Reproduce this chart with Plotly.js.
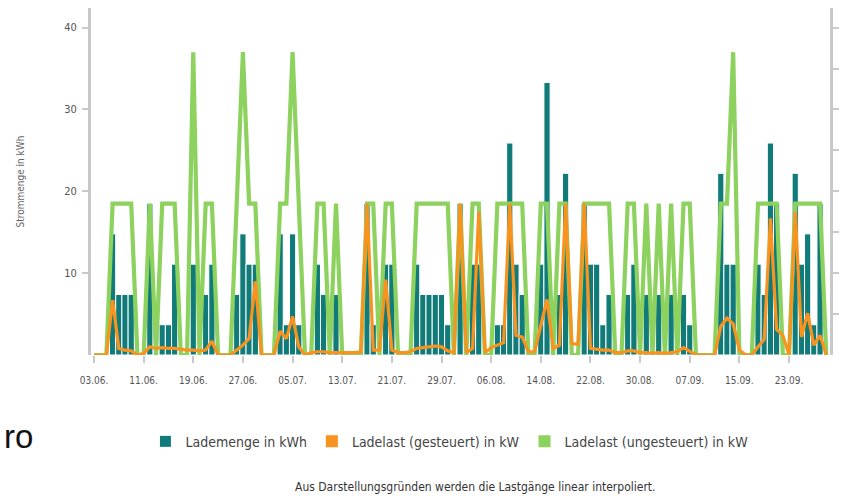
<!DOCTYPE html>
<html>
<head>
<meta charset="utf-8">
<script src="https://cdn.plot.ly/plotly-3.0.1.min.js"></script>
<style>
html,body{margin:0;padding:0;background:#ffffff;}
#chart{width:841px;height:496px;}
</style>
</head>
<body>
<div id="chart"></div>
<script>
// ---- data ----
const startDate = '2023-06-03';

// Lademenge in kWh (daily bars, 03.06. - 29.09.)
const ladeMenge = [
  0, 0, 0, 14.8, 7.4, 7.4, 7.4, 0, 0, 18.5,
  0, 3.7, 3.7, 11.1, 0, 0, 11.1, 0, 7.4, 11.1,
  0, 0, 0, 7.4, 14.8, 11.1, 11.1, 0, 0, 0,
  14.8, 3.7, 14.8, 3.7, 0, 0, 11.1, 7.4, 0, 7.4,
  0, 0, 0, 0, 18.5, 3.7, 0, 11.1, 11.1, 0,
  0, 0, 11.1, 7.4, 7.4, 7.4, 7.4, 3.7, 0, 18.5,
  0, 11.1, 11.1, 0, 0, 3.7, 3.7, 25.9, 11.1, 7.4,
  0, 0, 11.1, 33.3, 0, 7.4, 22.2, 0, 0, 18.5,
  11.1, 11.1, 3.7, 7.4, 0, 0, 7.4, 11.1, 0, 7.4,
  0, 7.4, 0, 7.4, 0, 7.4, 3.7, 0, 0, 0,
  0, 22.2, 11.1, 11.1, 0, 0, 0, 11.1, 7.4, 25.9,
  18.5, 0, 0, 22.2, 11.1, 14.8, 3.7, 18.5, 0
];

// Ladelast (gesteuert) in kW
const ladelastGesteuert = [
  0, 0, 0, 6.7, 0.8, 0.6, 0.5, 0, 0.2, 1.0,
  0.8, 0.9, 0.8, 0.8, 0.7, 0.6, 0.6, 0.5, 0.6, 1.7,
  0, 0, 0, 0.6, 1.2, 2.0, 9.0, 0, 0, 0,
  2.9, 2.0, 4.7, 1.0, 0, 0.3, 0.4, 0.4, 0.3, 0.3,
  0.3, 0.3, 0.3, 0.4, 18.5, 0.6, 0.6, 9.2, 0.6, 0.3,
  0.3, 0.4, 0.8, 0.9, 1.0, 1.1, 1.0, 0.5, 0.3, 18.5,
  0.3, 0.8, 17.5, 0.3, 0.9, 1.2, 1.5, 18.5, 2.4, 2.2,
  0.4, 0.4, 3.5, 6.8, 0.8, 1.2, 18.5, 1.4, 1.3, 18.5,
  0.8, 0.7, 0.6, 0.6, 0.3, 0.3, 0.5, 0.5, 0.3, 0.3,
  0.2, 0.3, 0.2, 0.3, 0.4, 0.9, 0.5, 0, 0, 0,
  0, 3.5, 4.5, 3.8, 0.6, 0, 0, 1.0, 1.9, 16.7,
  3.1, 2.4, 0, 17.5, 2.2, 5.1, 1.2, 2.4, 0
];

// Ladelast (ungesteuert) in kW
const ladelastUngesteuert = [
  0, 0, 0, 18.5, 18.5, 18.5, 18.5, 0, 0, 18.5,
  0, 18.5, 18.5, 18.5, 0, 0, 37, 0, 18.5, 18.5,
  0, 0, 0, 18.5, 37, 18.5, 18.5, 0, 0, 0,
  18.5, 18.5, 37, 18.5, 0, 0, 18.5, 18.5, 0, 18.5,
  0, 0, 0, 0, 18.5, 18.5, 0, 18.5, 18.5, 0,
  0, 0, 18.5, 18.5, 18.5, 18.5, 18.5, 18.5, 0, 18.5,
  0, 18.5, 18.5, 0, 0, 18.5, 18.5, 18.5, 18.5, 18.5,
  0, 0, 18.5, 18.5, 0, 18.5, 18.5, 0, 0, 18.5,
  18.5, 18.5, 18.5, 18.5, 0, 0, 18.5, 18.5, 0, 18.5,
  0, 18.5, 0, 18.5, 0, 18.5, 18.5, 0, 0, 0,
  0, 18.5, 18.5, 37, 0, 0, 0, 18.5, 18.5, 18.5,
  18.5, 0, 0, 18.5, 18.5, 18.5, 18.5, 18.5, 0
];

const tickDates = ['2023-06-03','2023-06-11','2023-06-19','2023-06-27','2023-07-05',
  '2023-07-13','2023-07-21','2023-07-29','2023-08-06','2023-08-14','2023-08-22',
  '2023-08-30','2023-09-07','2023-09-15','2023-09-23'];
const tickLabels = ['03.06.','11.06.','19.06.','27.06.','05.07.','13.07.','21.07.',
  '29.07.','06.08.','14.08.','22.08.','30.08.','07.09.','15.09.','23.09.'];

const yTicksLeft = [10, 20, 30, 40];
const yTicksRight = [5, 10, 15, 20, 25, 30, 35, 40];

const seriesNames = ['Lademenge in kWh', 'Ladelast (gesteuert) in kW', 'Ladelast (ungesteuert) in kW'];
const colors = ['#107b79', '#f7931e', '#8dd15e'];

// ---- build ----
function addDays(s, n) {
  const d = new Date(s + 'T00:00:00Z');
  d.setUTCDate(d.getUTCDate() + n);
  return d.toISOString().slice(0, 10);
}
const dates = ladeMenge.map((_, i) => addDays(startDate, i));

const FONT = '"Liberation Sans Narrow", "DejaVu Sans Condensed", "Roboto Condensed", Roboto, sans-serif';
const gray = '#c9c9c9';

const traces = [
  {
    type: 'bar', x: dates, y: ladeMenge, name: seriesNames[0],
    marker: {color: colors[0], line: {color: '#ffffff', width: 1}},
    showlegend: true, hoverinfo: 'skip', yaxis: 'y'
  },
  // legend squares for the two load curves
  {
    type: 'bar', x: [null], y: [null], name: seriesNames[1],
    marker: {color: colors[1]}, showlegend: true, hoverinfo: 'skip', yaxis: 'y'
  },
  {
    type: 'bar', x: [null], y: [null], name: seriesNames[2],
    marker: {color: colors[2]}, showlegend: true, hoverinfo: 'skip', yaxis: 'y'
  },
  {
    type: 'scatter', mode: 'lines', x: dates, y: ladelastUngesteuert, name: seriesNames[2],
    line: {color: colors[2], width: 4.2, shape: 'linear'},
    showlegend: false, hoverinfo: 'skip', yaxis: 'y2'
  },
  {
    type: 'scatter', mode: 'lines', x: dates, y: ladelastGesteuert, name: seriesNames[1],
    line: {color: colors[1], width: 3.2, shape: 'linear'},
    showlegend: false, hoverinfo: 'skip', yaxis: 'y2'
  }
];

const yRange = [0, 42.4];

const layout = {
  width: 841, height: 496,
  margin: {l: 91, r: 11, t: 8, b: 141, pad: 0},
  paper_bgcolor: '#ffffff', plot_bgcolor: '#ffffff',
  font: {family: FONT, color: '#555555'},
  bargap: 0,
  showlegend: true,
  xaxis: {
    type: 'date',
    range: ['2023-06-02 12:29', '2023-09-29 14:24'],
    tickmode: 'array', tickvals: tickDates, ticktext: tickLabels,
    ticks: 'outside', ticklen: 7, tickwidth: 2, tickcolor: gray,
    ticklabelstandoff: 9,
    showgrid: false, zeroline: false, showline: false,
    tickfont: {family: FONT, size: 10, color: '#555555'},
    fixedrange: true
  },
  yaxis: {
    range: yRange,
    tickmode: 'array', tickvals: yTicksLeft,
    ticks: 'outside', ticklen: 6, tickwidth: 2, tickcolor: gray,
    ticklabelstandoff: 3,
    showline: true, linecolor: gray, linewidth: 3,
    showgrid: false, zeroline: false,
    tickfont: {family: FONT, size: 11, color: '#555555'},
    fixedrange: true
  },
  yaxis2: {
    range: yRange, overlaying: 'y', side: 'right',
    tickmode: 'array', tickvals: yTicksRight,
    ticks: 'outside', ticklen: 6, tickwidth: 2, tickcolor: gray,
    showticklabels: false,
    showline: true, linecolor: gray, linewidth: 3,
    showgrid: false, zeroline: false,
    fixedrange: true
  },
  legend: {
    orientation: 'h', x: 0.485, xanchor: 'center', y: -0.25, yanchor: 'middle',
    font: {family: FONT, size: 14, color: '#444444'},
    itemwidth: 30, traceorder: 'normal', bgcolor: 'rgba(0,0,0,0)'
  },
  annotations: [
    {
      xref: 'paper', yref: 'paper', x: -0.096, y: 0.5,
      text: 'Strommenge in kWh', textangle: -90, showarrow: false,
      xanchor: 'center', yanchor: 'middle',
      font: {family: FONT, size: 10, color: '#666666'}
    },
    {
      xref: 'paper', yref: 'paper', x: 0.52, y: -0.38,
      text: 'Aus Darstellungsgründen werden die Lastgänge linear interpoliert.',
      showarrow: false, xanchor: 'center', yanchor: 'middle',
      font: {family: FONT, size: 12, color: '#333333'}
    },
    {
      xref: 'paper', yref: 'paper', x: -0.1205, y: -0.236,
      text: 'ro', showarrow: false, xanchor: 'left', yanchor: 'middle',
      font: {family: 'Liberation Sans, Arial, sans-serif', size: 33, color: '#111111'}
    }
  ]
};

Plotly.newPlot('chart', traces, layout, {staticPlot: true, displayModeBar: false});
</script>
</body>
</html>
